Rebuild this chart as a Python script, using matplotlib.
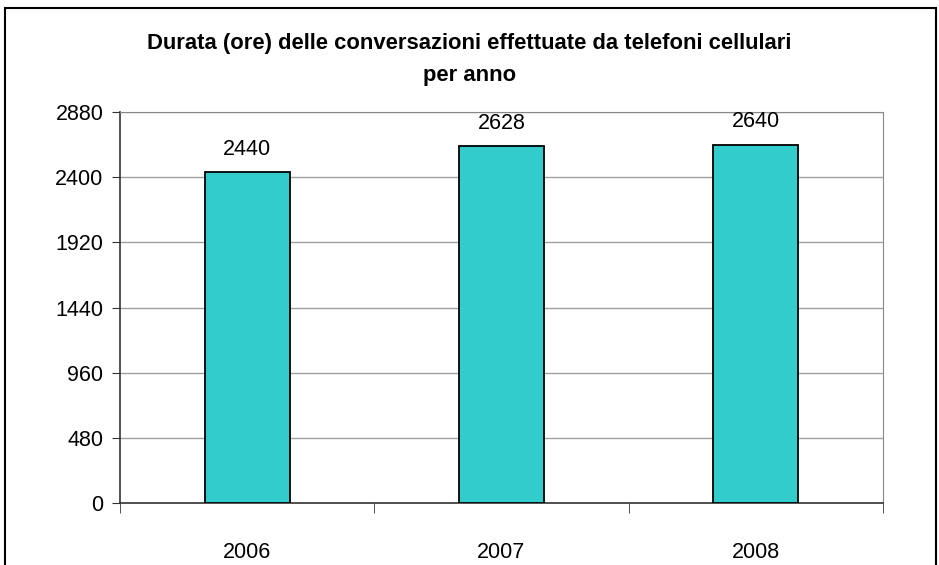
import matplotlib.pyplot as plt
from matplotlib.patches import Rectangle

anni = ['2006', '2007', '2008']
ore = [2440, 2628, 2640]
y_ticks = [0, 480, 960, 1440, 1920, 2400, 2880]

plt.rcParams['font.family'] = ['Liberation Sans', 'DejaVu Sans']

fig = plt.figure(figsize=(9.39, 5.65), dpi=100)
# outer frame of the chart area
fig.patches.append(Rectangle((5 / 939, -0.05), 931 / 939, 1 - 8 / 565 + 0.05,
                             transform=fig.transFigure, fill=False,
                             edgecolor='black', linewidth=1.5))

ax = fig.add_axes([120 / 939, 1 - 503 / 565, 763 / 939, 391 / 565])
x = list(range(len(anni)))
bars = ax.bar(x, ore, width=0.335, color='#33CCCC', edgecolor='black',
              linewidth=1.3, zorder=3)
for b, v in zip(bars, ore):
    ax.text(b.get_x() + b.get_width() / 2, v + 90, str(v), ha='center',
            va='bottom', fontsize=15.5)

ax.set_xlim(-0.5, len(anni) - 0.5)
ax.set_ylim(0, 2880)
ax.set_yticks(y_ticks)
ax.set_yticklabels([str(t) for t in y_ticks], fontsize=15.5)
ax.set_xticks(x)
ax.set_xticklabels(anni, fontsize=15.5)
ax.tick_params(axis='x', length=0, pad=28)
ax.set_xticks([i - 0.5 for i in range(len(anni) + 1)], minor=True)
ax.tick_params(axis='x', which='minor', length=7, direction='out', color='#333333')
ax.tick_params(axis='y', length=6, direction='out', color='#333333', pad=6)
ax.grid(axis='y', color='#A0A0A0', linewidth=1, zorder=0)
for s in ['top', 'right']:
    ax.spines[s].set_color('#888888')
for s in ['left', 'bottom']:
    ax.spines[s].set_color('#333333')
    ax.spines[s].set_linewidth(1.2)

fig.text(0.5, 1 - 44 / 565, 'Durata (ore) delle conversazioni effettuate da telefoni cellulari',
         ha='center', va='center', fontsize=15.8, fontweight='bold')
fig.text(0.5, 1 - 75 / 565, 'per anno', ha='center', va='center',
         fontsize=15.8, fontweight='bold')

fig.savefig('out.png', dpi=100)
